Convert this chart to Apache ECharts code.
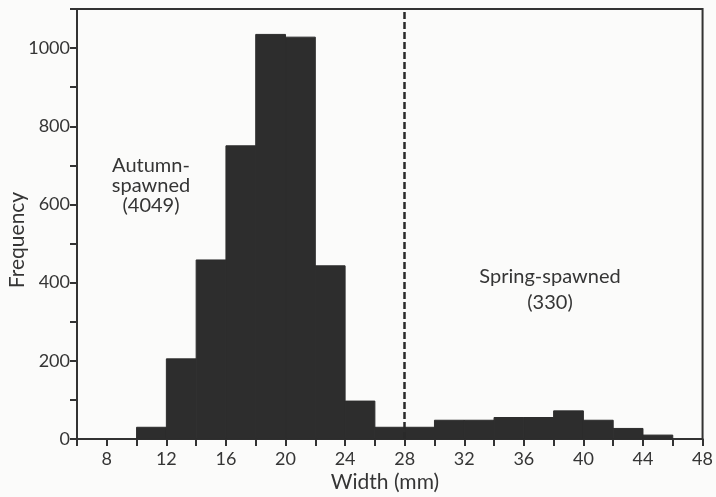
<!DOCTYPE html>
<html>
<head>
<meta charset="utf-8">
<script src="https://cdn.jsdelivr.net/npm/echarts@6/dist/echarts.min.js"></script>
<style>
html,body{margin:0;padding:0;background:#fbfbfa;}
#c{width:716px;height:497px;}
</style>
</head>
<body>
<div id="c"></div>
<script>
// Histogram bins (width, mm) and frequencies
const binStarts = [10, 12, 14, 16, 18, 20, 22, 24, 26, 28, 30, 32, 34, 36, 38, 40, 42, 44];
const binWidth = 2;
const frequencies = [30, 205, 458, 750, 1035, 1028, 443, 97, 30, 30, 48, 48, 55, 55, 72, 48, 27, 10];
const dividerX = 28;
const xLabelValues = [8, 12, 16, 20, 24, 28, 32, 36, 40, 44, 48];
const yLabelValues = [0, 200, 400, 600, 800, 1000];
const autumnLabel = "Autumn-\nspawned\n(4049)";
const springLabel = "Spring-spawned\n(330)";

const FONT = 'Lato';
const TXT = '#353535';
const AX = '#333';

const data = binStarts.map((s, i) => [s, s + binWidth, frequencies[i]]);

const chart = echarts.init(document.getElementById('c'));
chart.setOption({
  backgroundColor: '#fbfbfa',
  animation: false,
  grid: { left: 77, right: 11, top: 9, bottom: 58, show: true, borderColor: AX, borderWidth: 2, backgroundColor: 'transparent' },
  xAxis: {
    type: 'value', min: 6, max: 48, interval: 2,
    axisLine: { show: true, lineStyle: { color: AX, width: 2 } },
    axisTick: { show: true, length: 7, lineStyle: { color: AX, width: 2 } },
    splitLine: { show: false },
    axisLabel: {
      margin: 11, color: TXT, fontFamily: FONT, fontSize: 18,
      formatter: v => xLabelValues.indexOf(v) >= 0 ? String(v) : ''
    }
  },
  yAxis: {
    type: 'value', min: 0, max: 1100, interval: 100,
    axisLine: { show: true, lineStyle: { color: AX, width: 2 } },
    axisTick: { show: true, length: 7, lineStyle: { color: AX, width: 2 } },
    splitLine: { show: false },
    axisLabel: {
      margin: 7, color: TXT, fontFamily: FONT, fontSize: 18,
      formatter: v => yLabelValues.indexOf(v) >= 0 ? String(v) : ''
    }
  },
  series: [{
    type: 'custom',
    data: data,
    encode: { x: [0, 1], y: 2 },
    renderItem: function (params, api) {
      const p0 = api.coord([api.value(0), api.value(2)]);
      const p1 = api.coord([api.value(1), 0]);
      return {
        type: 'rect',
        shape: { x: p0[0], y: p0[1], width: p1[0] - p0[0], height: p1[1] - p0[1] },
        style: { fill: '#2d2d2d', stroke: '#2d2d2d', lineWidth: 1 }
      };
    },
    markLine: {
      silent: true, symbol: 'none', label: { show: false },
      lineStyle: { color: '#2a2a2a', width: 2.5, type: [7, 3] },
      data: [{ xAxis: dividerX }]
    },
    z: 1
  }],
  graphic: [
    { type: 'text', x: 151, y: 186, style: { text: autumnLabel, font: '20px Lato', fill: TXT, align: 'center', verticalAlign: 'middle', lineHeight: 20 } },
    { type: 'text', x: 550, y: 290, style: { text: springLabel, font: '20px Lato', fill: TXT, align: 'center', verticalAlign: 'middle', lineHeight: 26 } },
    { type: 'text', x: 17, y: 240, rotation: Math.PI / 2, style: { text: 'Frequency', font: '21px Lato', fill: TXT, align: 'center', verticalAlign: 'middle' } },
    { type: 'text', x: 385, y: 482, style: { text: 'Width (mm)', font: '21px Lato', fill: TXT, align: 'center', verticalAlign: 'middle' } }
  ]
});
</script>
</body>
</html>
